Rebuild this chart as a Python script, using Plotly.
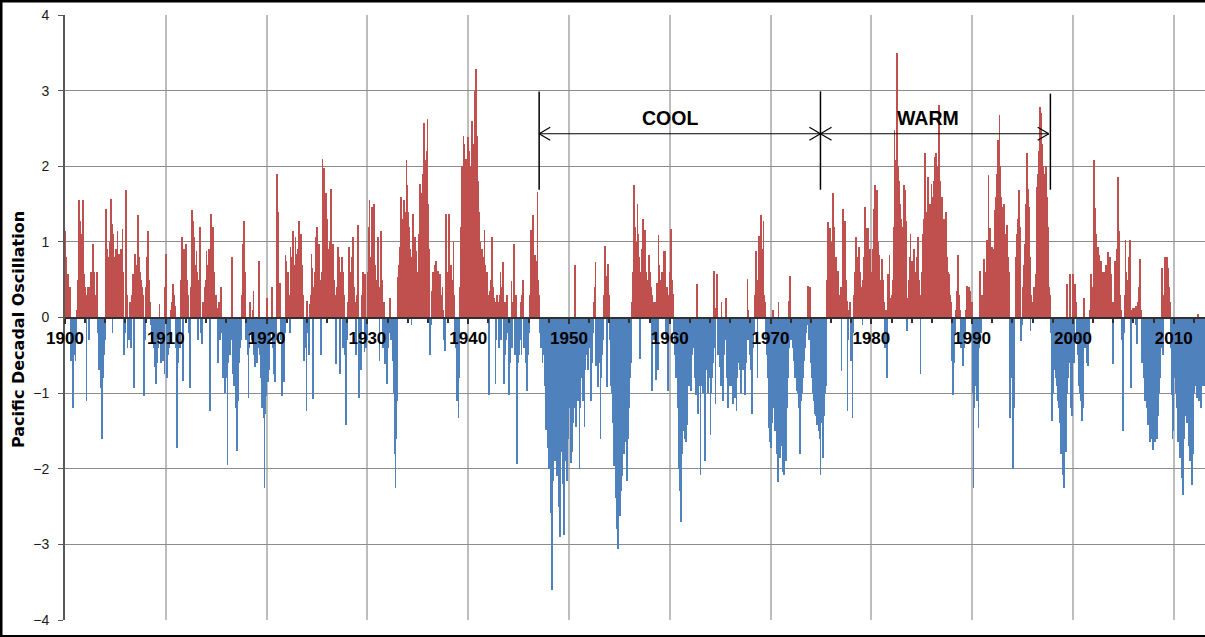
import plotly.graph_objects as go

# Monthly PDO index values, one list per decade (12 values per year).
pdo_1900s = [
    1.15, 0.8, 0.3, 0.57, 0.2, 0.4, -0.3, -0.57, -0.4, -1.2, -0.3, -0.5,
    -0.57, -0.3, 0.1, 0.5, 1.55, 1.28, 1.0, 1.1, 0.8, 1.55, 0.57, 0.4,
    0.2, -1.1, 0.3, 0.4, -0.3, 0.4, 0.6, 0.5, 0.3, 0.97, 0.6, 0.2,
    0.3, 0.1, 0.6, -0.2, -0.7, -0.4, -0.93, -0.6, -1.6, -0.8, -0.5, -0.3,
    1.44, 0.7, 0.9, 0.6, 0.8, 1.0, 1.57, 1.24, -0.2, 1.1, 0.6, 0.8,
    0.9, 0.6, 1.15, 0.7, 0.84, 0.6, 0.9, 0.5, 1.17, 0.6, -0.5, -0.2,
    1.68, 0.3, -0.4, -0.2, -0.3, 0.2, -0.4, 0.3, 0.57, 0.2, -0.93, 0.84,
    0.6, 0.7, 1.35, 0.9, 0.8, 0.6, 0.5, 0.4, 0.3, 0.2, -1.04, -0.3,
    0.4, 0.8, 1.15, 1.1, 0.5, 0.2, -0.1, -0.3, -0.2, -0.4, -0.66, -0.5,
    -0.88, -0.6, -0.4, -0.2, 0.18, -0.3, -0.6, -0.4, -0.57, -0.3, -0.75, 0.4,
]
pdo_1910s = [
    0.84, -0.8, -0.5, -0.4, -0.3, -0.2, 0.1, 0.2, 0.44, 0.3, 0.15, -0.4,
    -0.4, -1.73, -0.6, -0.3, -0.4, -0.2, 0.5, 1.06, -0.84, 0.9, 0.7, 0.6,
    0.97, 0.5, 0.3, -0.2, -0.93, -0.3, 0.4, 1.42, 1.28, 1.06, 0.6, 0.7,
    0.88, 0.6, -0.3, 0.5, 1.2, -0.2, -0.3, -0.35, 0.2, 0.1, 0.4, 0.5,
    0.88, 0.6, 0.7, 0.9, -1.24, 1.37, 0.8, 0.5, 1.2, 0.6, 0.13, 0.3,
    0.13, -0.4, -0.6, 0.2, -0.3, 0.4, -0.2, -0.5, -0.8, -0.6, -1.0, -0.7,
    -0.8, -1.95, -0.6, -0.4, -0.5, -0.3, 0.8, -0.5, -0.75, -0.9, -0.6, -1.2,
    -1.77, -0.9, -1.1, -0.6, -0.4, -0.3, 0.3, 0.97, 0.84, 1.28, 0.6, -0.3,
    -0.3, -0.5, -1.06, -0.4, 0.2, -0.2, -0.3, 0.1, 0.35, -0.5, -0.66, -0.4,
    -0.6, -0.4, 0.75, -0.3, -0.5, -0.8, -1.2, -0.9, -1.33, -2.26, -1.28, -1.04,
]
pdo_1920s = [
    0.26, -0.85, -0.5, -0.7, -0.3, -0.2, 0.4, -0.4, -0.75, -0.6, -0.85, -0.3,
    1.9, 1.4, 0.4, 0.45, 0.2, -0.3, -1.04, -0.5, -0.85, -0.2, 0.82, 0.75,
    0.4, 0.6, 0.3, -0.2, 0.93, 0.5, 0.8, 1.15, 0.66, 0.7, 1.06, 0.84,
    0.6, 0.9, 1.28, 0.8, 1.1, 0.5, 0.7, 0.3, -0.57, -0.2, -0.4, -1.24,
    0.22, -0.2, -0.5, 0.18, 0.3, 0.84, 0.66, -1.08, 0.4, 0.6, 1.06, 0.8,
    1.2, 0.7, 0.97, 0.5, -0.5, 0.6, 2.1, 1.42, 1.98, 1.2, 1.64, 1.3,
    1.06, 0.9, 0.7, 1.0, 1.7, 0.9, 0.48, 0.97, 0.5, 0.3, -0.62, 0.4,
    0.5, 0.93, 0.8, -0.75, 0.6, 0.8, -0.4, 0.6, 0.3, -0.5, -1.42, -0.3,
    0.2, 0.5, 0.93, 0.48, 0.6, 0.8, 1.06, 0.7, 0.4, 0.2, -0.5, 0.3,
    1.22, 0.4, -1.06, -0.5, -0.7, 0.3, 0.6, 0.2, -0.45, 0.57, -0.4, -0.3,
]
pdo_1930s = [
    0.6, 1.2, 1.55, 0.35, 0.8, 1.46, 0.9, 1.5, 1.3, 0.7, 0.4, 0.5,
    1.06, 0.3, -0.57, 0.4, 1.15, 0.5, -0.4, 0.2, -0.62, -0.3, -0.5, -0.88,
    -0.4, -0.2, 0.26, 0.13, -0.3, -0.2, -0.57, -1.0, -1.8, -2.26, -1.6, -1.1,
    0.53, 0.7, 0.93, 1.1, 1.6, 1.3, 1.24, 1.55, 1.2, 1.4, 2.08, 1.75,
    1.4, 1.2, 0.9, 0.6, -0.1, 0.8, 1.37, 0.9, 1.06, 0.7, 0.88, 0.6,
    0.57, 1.1, 1.77, 1.4, 1.64, 1.37, 1.9, 2.57, 1.8, 2.08, 2.2, 2.63,
    1.5, 0.9, -0.5, -0.1, 0.35, 0.5, 0.6, 0.4, 0.7, 0.75, 0.5, 0.3,
    0.62, 0.4, 0.57, 0.3, 0.2, 0.4, 0.1, -0.3, -0.44, 1.37, 0.6, 0.3,
    0.48, 1.37, 0.4, 0.7, 0.2, 0.5, 1.0, 0.3, -0.2, -0.4, -1.1, -0.6,
    -1.33, -0.8, 0.4, 1.2, 2.0, 1.6, 2.4, 2.3, 1.9, 2.1, 1.6, 2.39,
]
pdo_1940s = [
    2.2, 1.9, 1.6, 2.0, 2.6, 2.1, 2.3, 2.99, 2.35, 3.29, 2.4, 1.8,
    1.2, 1.4, 1.0, 0.73, 0.9, 0.6, 0.8, 1.16, 0.7, 0.5, 0.6, 0.3,
    -1.02, 0.35, 0.2, 0.5, 1.07, 0.4, 0.26, 0.2, -0.88, -0.3, 0.3, 0.2,
    -0.4, 0.3, 0.6, -0.3, 0.4, 0.73, -0.88, 0.2, -0.5, -0.3, 0.3, -0.2,
    -1.02, -0.6, -0.3, 0.48, -0.4, 0.2, 0.97, -0.5, 0.3, -0.88, -1.94, -0.6,
    -0.5, -0.3, 0.2, -0.5, 0.3, 0.5, -0.4, -0.2, -0.6, -0.3, -0.97, -0.5,
    -0.2, 0.3, 1.16, 0.6, 0.8, 1.35, 0.7, 0.83, 0.75, 0.4, 1.66, 0.5,
    0.3, -0.2, -0.4, -0.3, -0.6, -0.4, -0.5, -0.9, -1.49, -0.8, -1.1, -1.73,
    -2.0, -1.6, -2.58, -3.6, -1.8, -2.16, -1.5, -1.9, -1.4, -2.1, -1.7, -2.5,
    -1.6, -2.9, -1.2, -1.78, -2.2, -1.5, -2.87, -1.9, -1.3, -2.16, -1.6, -1.1,
]
pdo_1950s = [
    -1.2, -0.9, -1.92, -1.78, -1.4, -1.0, -1.2, 0.69, -1.45, -0.8, -1.1, -0.7,
    -2.0, -1.2, -0.8, -0.6, -1.1, -0.9, -1.45, -0.7, -0.5, -0.4, -0.69, -0.3,
    -0.4, -0.3, -1.1, -0.6, -0.2, 0.2, 0.4, 0.73, -0.64, -0.4, -0.92, -0.5,
    -0.6, -1.6, -0.8, -0.5, -0.3, 0.3, 0.95, 0.4, 0.55, -0.92, 0.71, 0.3,
    -0.3, -0.6, -0.9, -1.0, -1.4, -1.97, -1.8, -2.39, -2.2, -2.8, -3.06, -2.5,
    -2.63, -2.3, -1.9, -2.1, -1.7, -1.8, -1.5, -1.64, -1.9, -2.16, -1.6, -1.2,
    -0.8, -0.6, -0.4, 0.2, 0.6, 1.75, 1.2, 0.55, 1.0, 1.5, 1.1, 0.8,
    -0.55, 0.6, 0.9, 0.7, 1.3, 0.8, 1.16, 0.6, 0.4, 0.3, 0.5, 0.83,
    0.6, 0.4, -0.97, 0.3, 0.21, -0.3, 0.2, -0.83, 0.45, -0.69, 1.09, 0.7,
    0.5, 0.3, 0.6, 0.4, 0.88, 0.2, 0.88, -0.3, 0.4, -0.97, -0.5, 0.3,
]
pdo_1960s = [
    0.6, 1.17, 0.5, 0.2, 0.31, -0.2, -0.5, -0.8, -0.6, -1.2, -2.0, -1.4,
    -2.3, -2.7, -1.8, -1.5, -1.3, -1.2, -1.6, -1.64, -1.42, -0.5, -0.9, -0.7,
    -0.7, -0.97, -0.5, -0.4, -0.3, -0.6, -0.8, -1.02, 0.44, -1.28, -0.9, -0.6,
    -2.08, -0.9, -0.6, -1.0, -0.7, -1.9, -0.8, -0.53, -0.7, -1.0, -0.6, -0.8,
    -1.55, -1.0, -0.8, -0.6, 0.62, -0.4, -1.15, 0.13, 0.57, -0.5, -0.3, -0.66,
    -0.9, 0.2, -0.7, -1.1, -0.5, -0.3, 0.26, -0.6, -0.8, -1.2, -0.5, -0.9,
    -0.8, -0.6, -0.9, -1.15, -0.7, -1.06, -0.5, -1.24, -0.8, -0.6, -0.4, -0.7,
    -1.0, -0.6, -0.4, -0.7, -0.5, -1.02, -0.6, -0.3, 0.51, 0.1, -0.3, -0.49,
    -0.7, -1.28, -0.6, -0.4, -0.2, 0.3, 0.88, 0.4, -0.8, 0.5, 1.08, 0.7,
    1.35, 0.57, 0.9, 1.28, 0.3, 0.2, -0.3, -0.5, -0.8, -1.2, -1.46, -1.64,
]
pdo_1970s = [
    -1.73, -1.4, 0.1, -1.2, -1.1, -1.5, -1.3, -1.8, -2.17, 0.2, -1.6, -1.86,
    -1.7, -1.5, -2.04, -2.08, -1.6, -1.4, -1.9, -1.2, -0.8, 0.22, -0.4, 0.55,
    -0.3, -0.2, -0.4, -0.57, -0.5, -0.8, -0.7, -0.97, -1.0, -1.2, -1.4, -1.81,
    -1.1, -1.0, -0.8, -0.57, -0.4, -0.3, -0.2, -0.1, 0.42, -0.3, 0.4, -0.2,
    -0.6, -0.8, -1.0, -1.1, -1.28, -1.0, -1.3, -1.42, -1.2, -1.5, -1.6, -2.08,
    -1.4, -1.2, -1.86, -1.3, -1.0, -0.9, -0.3, 0.5, 1.26, 0.8, 1.19, 0.6,
    0.4, 1.0, 1.64, 1.2, 0.6, 0.8, 0.5, 0.4, 0.62, 0.3, 0.2, 0.4,
    -0.71, 0.3, 1.44, 0.9, 1.28, 0.5, 0.22, -1.24, -0.3, 0.1, 0.2, -0.57,
    -0.4, -1.33, -0.2, 0.3, 0.6, 1.06, 0.7, 0.5, 0.8, 0.93, 0.6, 0.4,
    0.3, -0.1, 0.5, 0.8, 1.46, 0.7, 1.19, 1.19, 0.6, 0.4, 0.9, 0.5,
]
pdo_1980s = [
    0.6, 0.9, 1.44, 1.2, 1.75, 1.3, 1.68, 1.0, 0.7, 0.82, 0.5, 0.4,
    0.77, 0.5, 0.4, 0.2, -0.4, 0.1, -0.8, 0.57, 0.3, 0.82, 0.26, 0.2,
    0.3, 0.5, 1.2, 2.48, 2.08, 1.6, 3.5, 2.0, 1.81, 0.93, 1.5, 1.3,
    1.2, 1.0, 1.75, 1.4, 1.68, 1.28, -0.18, 0.26, 0.5, 0.8, 1.1, 0.7,
    0.75, 0.5, 0.9, 0.6, 0.57, 0.4, 0.8, 1.06, 0.5, 0.2, -0.75, 0.3,
    0.6, 1.1, 1.3, 2.17, 1.5, 1.2, 1.4, 1.86, 1.3, 1.5, 1.2, 1.77,
    1.5, 1.6, 1.8, 2.12, 2.17, 1.7, 1.9, 2.0, 2.81, 1.8, 1.6, 1.46,
    1.6, 1.22, 1.3, 1.1, 1.39, 1.02, 0.8, 0.6, 0.57, 0.3, 0.2, -0.57,
    -0.4, -1.02, -0.6, -0.2, 0.1, 0.35, 0.2, 0.82, 0.3, 0.1, -0.4, -0.2,
    -0.3, -0.64, -0.4, -0.2, 0.1, 0.42, 0.3, 0.2, 0.4, 0.35, 0.1, 0.2,
]
pdo_1990s = [
    -1.0, -2.26, -1.2, -0.8, -0.9, -1.1, -0.6, -1.46, -0.4, 0.62, -0.2, 0.3,
    0.3, 0.5, 0.77, 0.4, 0.6, 1.02, 0.8, 1.88, 1.0, 1.19, 0.7, 0.93,
    0.5, 0.9, 1.2, 1.42, 1.6, 1.9, 2.35, 1.8, 2.68, 2.0, 1.6, 1.46,
    1.3, 1.5, 1.2, 1.1, 0.9, 1.22, 0.8, 0.6, 0.3, -1.33, -0.6, -0.8,
    -2.0, -1.2, -0.5, 0.57, 0.8, 1.1, 1.3, 1.68, 1.2, 0.93, -0.31, -0.1,
    0.4, 0.7, 0.97, 1.2, 1.5, 2.17, 1.7, 1.46, 0.8, -0.18, 0.3, 0.2,
    0.2, 0.4, 0.3, 0.57, 1.2, 1.73, 1.9, 2.2, 2.79, 2.3, 2.7, 2.3,
    2.0, 1.7, 1.9, 2.0, 1.8, 1.6, 1.2, 0.4, 0.3, -0.2, -0.6, -1.37,
    -1.0, -0.53, -0.7, -0.8, -0.9, -1.0, -1.1, -1.2, -1.4, -1.81, -1.5, -1.6,
    -2.08, -2.26, -1.5, -1.78, 0.44, -1.0, -0.8, -0.6, 0.57, -1.2, -1.3, -1.28,
]
pdo_2000s = [
    0.57, -0.6, 0.44, 0.2, -0.3, -0.5, -0.75, -0.9, -1.0, -1.1, -1.37, -1.2,
    -0.8, 0.26, -0.4, -0.3, -0.6, -0.64, -0.3, -0.2, 0.1, 0.57, 0.3, 0.4,
    1.5, 2.08, 1.45, 1.1, 0.9, 0.93, 0.7, 0.82, 0.6, 0.75, 0.5, 0.6,
    0.49, 0.6, 0.5, 0.7, 0.4, 0.86, 0.3, 0.5, 0.8, 0.57, 0.2, -0.62,
    0.2, 0.4, 0.75, 0.5, 0.9, 1.86, 1.15, 0.6, 0.3, 0.1, -0.3, -1.5,
    -0.2, 0.3, 1.02, 0.6, 0.4, 0.5, 0.8, 1.02, 0.3, -0.93, 0.1, 0.13,
    0.1, 0.13, -0.1, 0.15, -0.35, 0.2, 0.4, 0.77, 0.3, 0.1, -0.6, -0.4,
    -0.8, -1.1, -0.9, -1.0, -1.2, -1.42, -1.3, -1.64, -1.5, -1.3, -1.6, -1.75,
    -1.5, -1.64, -1.2, -1.42, -1.6, -1.3, -1.0, -0.8, -0.4, 0.22, 0.66, -0.5,
    0.3, 0.8, 0.5, 0.8, 0.6, 0.66, 0.4, 0.2, -0.4, -1.02, -1.6, -1.5,
]
pdo_2010s = [
    -0.8, -0.6, -1.0, -1.2, -1.4, -1.64, -1.5, -1.86, -1.7, -2.12, -1.9, -2.35,
    -1.6, -1.3, -1.2, -1.4, -1.0, -1.55, -1.7, -1.9, -1.5, -2.21, -1.8, -1.3,
    -1.0, -0.9, -0.8, -1.06, 0.04, -1.0, -1.1, -0.9, -1.2, -0.7, -0.9, -0.6,
    -0.9,
]

decade_ticks = [1900, 1910, 1920, 1930, 1940, 1950, 1960, 1970, 1980, 1990, 2000, 2010]
tick_labels = [str(t) for t in decade_ticks]

# Regime shift markers and their labels
regime_bounds = [1947.04, 1974.95, 1997.76]
regime_arrows = [(1947.04, 1974.95), (1974.95, 1997.6)]
regime_labels = ["COOL", "WARM"]
regime_label_x = [1960.0, 1985.6]

START_YEAR = 1900
X_END = 2013.1
POS_COLOR = "#C0504D"
NEG_COLOR = "#4F81BD"

values = (pdo_1900s + pdo_1910s + pdo_1920s + pdo_1930s + pdo_1940s
          + pdo_1950s + pdo_1960s + pdo_1970s + pdo_1980s + pdo_1990s
          + pdo_2000s + pdo_2010s)
months = [START_YEAR + (i + 0.5) / 12 for i in range(len(values))]
colors = [POS_COLOR if v >= 0 else NEG_COLOR for v in values]

W, H = 1205, 637
ML, MR, MT, MB = 65, 0, 15, 17
PW, PH = W - ML - MR, H - MT - MB

def px_x(px):
    return (px - ML) / PW

def px_y(py):
    return (H - MB - py) / PH

fig = go.Figure(
    go.Bar(
        x=months,
        y=values,
        width=1 / 12,
        marker=dict(color=colors, line=dict(width=0)),
        hoverinfo="x+y",
    )
)

sans = "Liberation Sans, Arial, sans-serif"

fig.update_layout(
    width=W,
    height=H,
    margin=dict(l=ML, r=MR, t=MT, b=MB, pad=0),
    paper_bgcolor="white",
    plot_bgcolor="white",
    bargap=0,
    showlegend=False,
    xaxis=dict(
        range=[START_YEAR, X_END],
        tickmode="array",
        tickvals=decade_ticks,
        ticktext=tick_labels,
        tickfont=dict(family=sans, size=17, color="black", weight="bold"),
        anchor="free",
        position=0.5,
        showline=True,
        linecolor="#303030",
        linewidth=2,
        ticks="outside",
        ticklen=5,
        tickwidth=1.5,
        tickcolor="#303030",
        minor=dict(tickmode="linear", tick0=1900, dtick=2, ticks="outside",
                   ticklen=4, tickwidth=1.5, tickcolor="#303030", showgrid=False),
        showgrid=True,
        gridcolor="#BDBDBD",
        gridwidth=1.5,
        zeroline=False,
        layer="above traces",
    ),
    yaxis=dict(
        range=[-4, 4],
        tickmode="linear",
        tick0=0,
        dtick=1,
        tickfont=dict(family=sans, size=14, color="#1a1a1a"),
        showline=True,
        linecolor="#595959",
        linewidth=2,
        ticks="outside",
        ticklen=5,
        tickcolor="#595959",
        ticklabelstandoff=6,
        showgrid=True,
        gridcolor="#8C8C8C",
        gridwidth=1.2,
        zeroline=False,
    ),
)

# Axis title
fig.add_annotation(
    x=px_x(18), y=px_y(330), xref="paper", yref="paper",
    xanchor="center", yanchor="middle",
    text="<b>Pacific Decadal Oscillation</b>", textangle=-90, showarrow=False,
    font=dict(family="DejaVu Sans, sans-serif", size=16, color="black"),
)

# Regime boundary lines
for b in regime_bounds:
    top = 2.96 if b > 1990 else 2.99
    fig.add_shape(type="line", xref="x", yref="y", x0=b, x1=b, y0=1.69, y1=top,
                  line=dict(color="black", width=1.5))

# Double-headed arrows between boundaries, each with its label
ARROW_Y = 2.43
HEAD_DX, HEAD_DY = 1.1, 0.085
for (x0, x1), label, lx in zip(regime_arrows, regime_labels, regime_label_x):
    fig.add_shape(type="line", xref="x", yref="y", x0=x0, x1=x1, y0=ARROW_Y, y1=ARROW_Y,
                  line=dict(color="black", width=1.2))
    for tip, d in ((x0, HEAD_DX), (x1, -HEAD_DX)):
        for s in (1, -1):
            fig.add_shape(type="line", xref="x", yref="y", x0=tip, x1=tip + d,
                          y0=ARROW_Y, y1=ARROW_Y + s * HEAD_DY,
                          line=dict(color="black", width=1.2))
    fig.add_annotation(
        x=lx, y=2.64, xref="x", yref="y", text="<b>%s</b>" % label,
        showarrow=False, font=dict(family=sans, size=19.5, color="black"),
    )

# Chart frame
frame = dict(color="black", width=3)
fig.add_shape(type="line", xref="paper", yref="paper", x0=px_x(0), x1=px_x(W),
              y0=px_y(1), y1=px_y(1), line=frame)
fig.add_shape(type="line", xref="paper", yref="paper", x0=px_x(1), x1=px_x(1),
              y0=px_y(0), y1=px_y(H), line=frame)
fig.add_shape(type="line", xref="paper", yref="paper", x0=px_x(0), x1=px_x(W),
              y0=px_y(H - 1), y1=px_y(H - 1), line=dict(color="black", width=2))

fig.write_html("out.html")
